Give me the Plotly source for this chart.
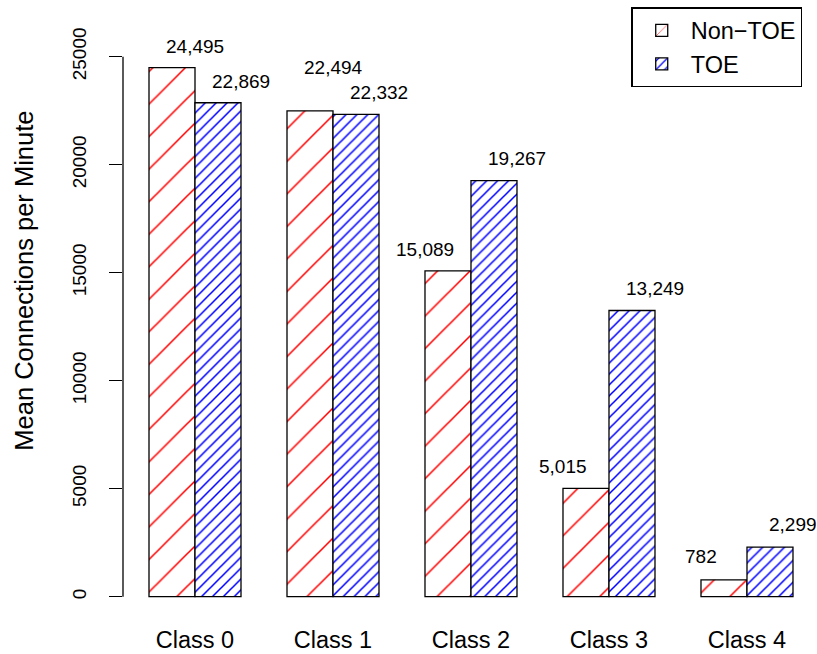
import plotly.graph_objects as go

# Mean connections per minute by traffic class
classes = ["Class 0", "Class 1", "Class 2", "Class 3", "Class 4"]
non_toe = [24495, 22494, 15089, 5015, 782]
toe = [22869, 22332, 19267, 13249, 2299]
y_ticks = [0, 5000, 10000, 15000, 20000, 25000]

# Label placement: which edge of the Non-TOE bar its value sits over,
# and how far above the bar top each value label is lifted (data units)
non_toe_label_edge = ["right", "right", "left", "left", "left"]
non_toe_label_lift = [1000, 2000, 1000, 1000, 1100]
toe_label_lift = [1000, 1000, 1000, 1000, 1050]

FONT = "Liberation Sans, Arial, Helvetica, sans-serif"
BIG = 23.5
SMALL = 19

# Grouped bars: each group is two unit-width bars followed by a unit gap
n = len(classes)
red_x = [3 * i + 1.5 for i in range(n)]
blue_x = [3 * i + 2.5 for i in range(n)]
group_x = [3 * i + 2.0 for i in range(n)]

fig = go.Figure()
fig.add_trace(go.Bar(
    x=red_x, y=non_toe, width=1.0, name="Non\u2212TOE",
    marker=dict(color="white",
                line=dict(color="black", width=1.3),
                pattern=dict(shape="/", fgcolor="#ff0000", bgcolor="white",
                             fgopacity=1, size=23, solidity=0.068,
                             fillmode="replace")),
    hoverinfo="skip",
))
fig.add_trace(go.Bar(
    x=blue_x, y=toe, width=1.0, name="TOE",
    marker=dict(color="white",
                line=dict(color="black", width=1.3),
                pattern=dict(shape="/", fgcolor="#0000ff", bgcolor="white",
                             fgopacity=1, size=7.7, solidity=0.2,
                             fillmode="replace")),
    hoverinfo="skip",
))

annotations = []
for i in range(n):
    dx = 0.5 if non_toe_label_edge[i] == "right" else -0.5
    annotations.append(dict(
        x=red_x[i] + dx, y=non_toe[i] + non_toe_label_lift[i],
        xref="x", yref="y", text=f"{non_toe[i]:,}", showarrow=False,
        xanchor="center", yanchor="middle",
        font=dict(family=FONT, size=SMALL, color="black")))
    annotations.append(dict(
        x=blue_x[i] + 0.5, y=toe[i] + toe_label_lift[i],
        xref="x", yref="y", text=f"{toe[i]:,}", showarrow=False,
        xanchor="center", yanchor="middle",
        font=dict(family=FONT, size=SMALL, color="black")))

# y-axis title
annotations.append(dict(
    x=-0.142, y=14650, xref="paper", yref="y",
    text="Mean Connections per Minute", textangle=-90, showarrow=False,
    xanchor="center", yanchor="middle",
    font=dict(family=FONT, size=25.5, color="black")))

fig.update_layout(
    width=817, height=654,
    margin=dict(l=123, r=0, t=0, b=54),
    paper_bgcolor="white", plot_bgcolor="white",
    barmode="overlay",
    showlegend=True,
    legend=dict(
        x=0.979, y=0.988, xanchor="right", yanchor="top",
        bordercolor="black", borderwidth=1.3, bgcolor="white",
        font=dict(family=FONT, size=BIG, color="black"),
        tracegroupgap=0, itemwidth=48,
    ),
    annotations=annotations,
    shapes=[dict(type="line", xref="paper", yref="y",
                 x0=0, x1=0, y0=y_ticks[0], y1=y_ticks[-1],
                 line=dict(color="black", width=1.3))],
    font=dict(family=FONT, color="black"),
)

fig.update_xaxes(
    range=[0.4348, 15.522],
    tickvals=group_x, ticktext=classes,
    ticks="", showline=False, showgrid=False, zeroline=False,
    tickfont=dict(family=FONT, size=BIG, color="black"),
    ticklabelstandoff=23,
)
fig.update_yaxes(
    range=[-153, 27625],
    tickvals=y_ticks, ticktext=[str(v) for v in y_ticks],
    ticks="outside", ticklen=13, tickwidth=1.3, tickcolor="black",
    tickangle=-90, showline=False, showgrid=False, zeroline=False,
    tickfont=dict(family=FONT, size=SMALL, color="black"),
    ticklabelstandoff=15,
)

fig.write_html("out.html")
